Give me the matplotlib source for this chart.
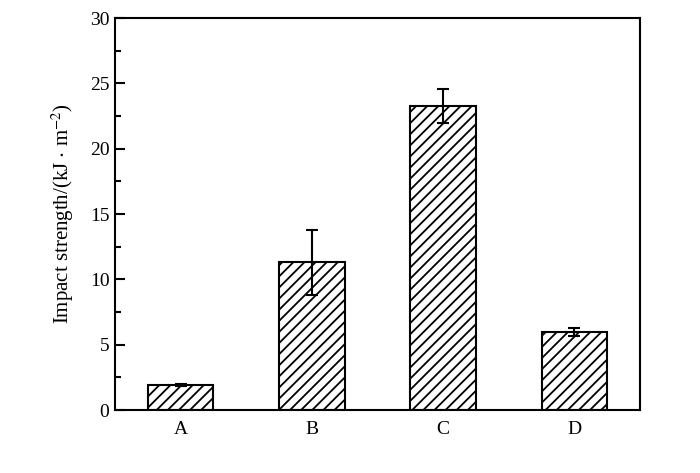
import matplotlib
matplotlib.use("Agg")
import matplotlib.pyplot as plt
from matplotlib.ticker import MultipleLocator

# data
samples = ["A", "B", "C", "D"]
impact = [1.9, 11.3, 23.3, 6.0]
impact_err = [0.1, 2.5, 1.3, 0.3]

plt.rcParams['font.family'] = ['Liberation Serif', 'DejaVu Serif']
plt.rcParams['mathtext.fontset'] = 'stix'
plt.rcParams['hatch.linewidth'] = 1.3

fig = plt.figure(figsize=(7, 4.73), dpi=100)
ax = fig.add_axes([115 / 700, 1 - 410 / 473, 525 / 700, 392 / 473])

x = range(len(samples))
ax.bar(x, impact, width=0.5, color="white", edgecolor="black",
       linewidth=1.5, hatch="///")
ax.errorbar(x, impact, yerr=impact_err, fmt="none", ecolor="black",
            elinewidth=1.5, capsize=4, capthick=1.5)

ax.set_xlim(-0.5, 3.5)
ax.set_ylim(0, 30)
ax.set_xticks(list(x))
ax.set_xticklabels(samples)
ax.yaxis.set_major_locator(MultipleLocator(5))
ax.yaxis.set_minor_locator(MultipleLocator(2.5))
ax.tick_params(axis="y", which="major", direction="in", length=7, width=1.5,
               labelsize=14, pad=4)
ax.tick_params(axis="y", which="minor", direction="in", length=4, width=1.5)
ax.tick_params(axis="x", length=0, labelsize=14, pad=8)
for s in ax.spines.values():
    s.set_linewidth(1.5)

ax.set_ylabel("Impact strength/(kJ $\\cdot$ m$^{-2}$)", fontsize=15, labelpad=10)

fig.savefig("out.png", dpi=100)
